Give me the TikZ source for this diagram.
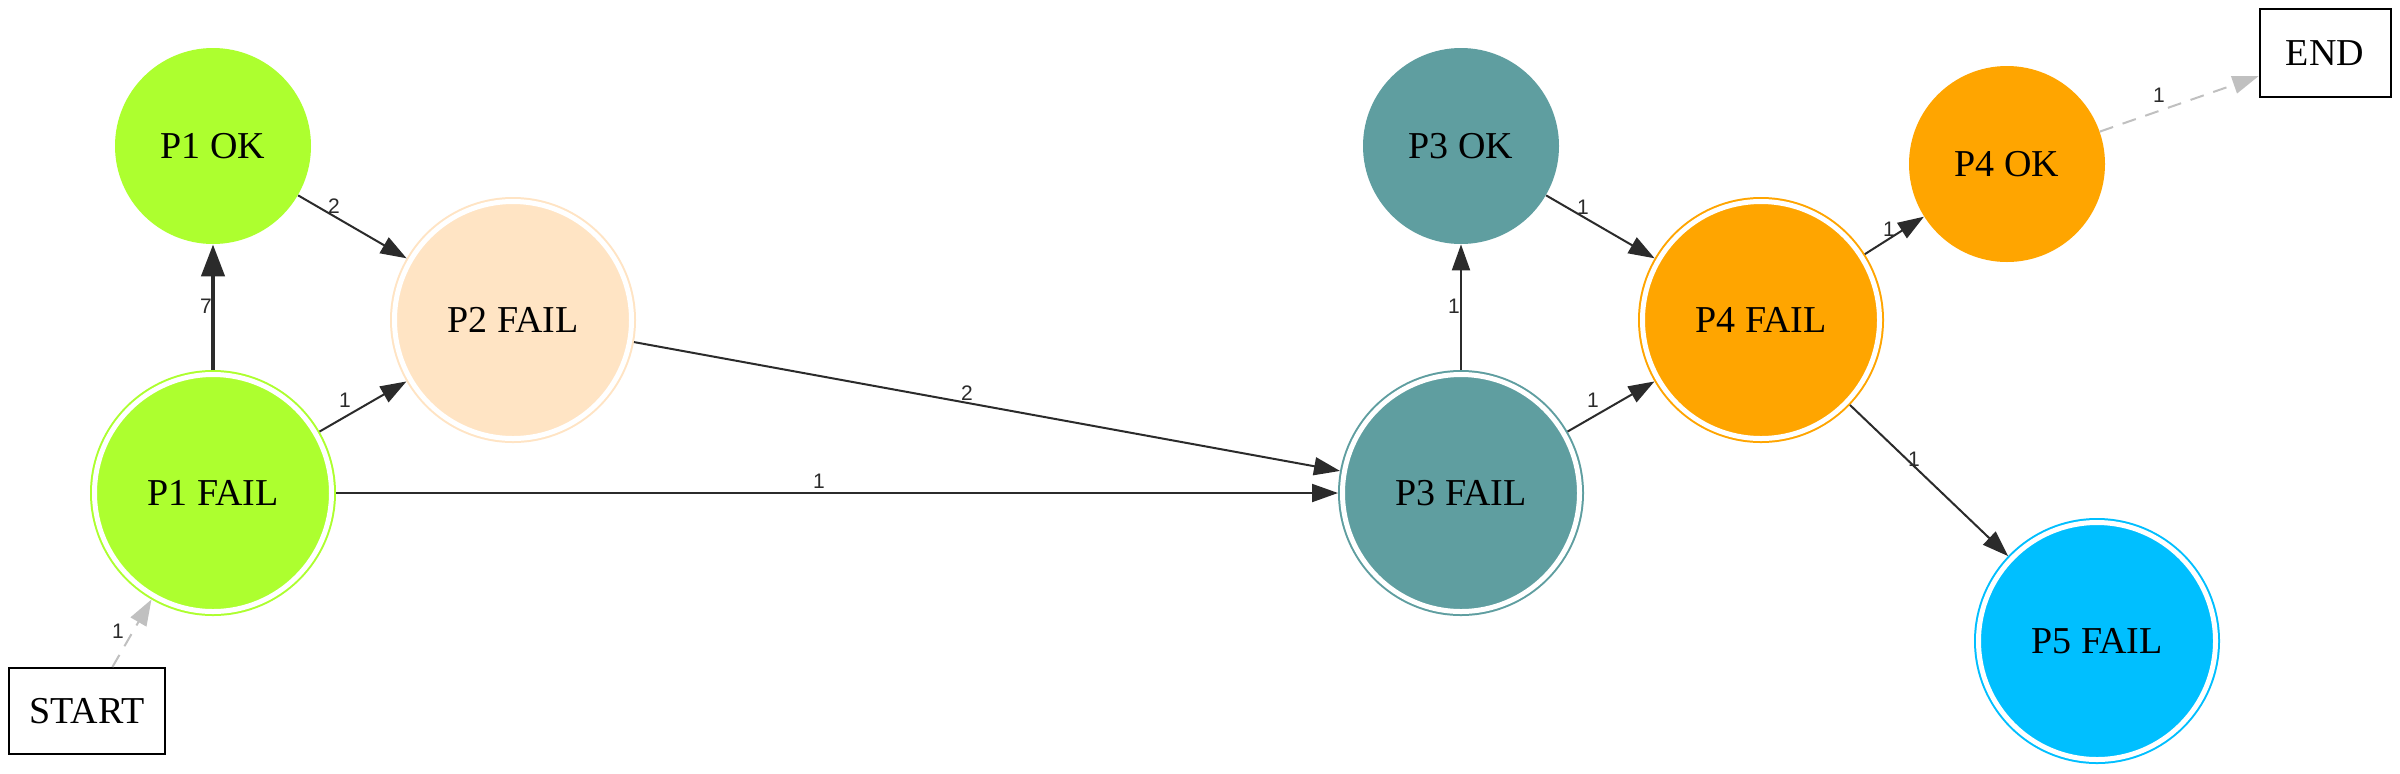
\documentclass[tikz,border=0pt]{standalone}
\usepackage{fontspec}
\setmainfont{Liberation Serif}
\newfontfamily\lblfont{Liberation Sans}
\usetikzlibrary{arrows.meta}
\definecolor{edgec}{RGB}{43,43,43}
\definecolor{dashc}{RGB}{192,192,192}
\definecolor{gy}{HTML}{ADFF2F}
\definecolor{cb}{HTML}{5F9EA0}
\definecolor{org}{HTML}{FFA500}
\definecolor{dsb}{HTML}{00BFFF}
\definecolor{bsq}{HTML}{FFE4C4}
\begin{document}
\begin{tikzpicture}[x=0.5pt,y=-0.5pt,
 nodefont/.style={font=\fontsize{19}{23}\selectfont},
 okstate/.style={circle, fill=#1, draw=none, minimum size=98pt, inner sep=0pt, nodefont},
 failstate/.style={circle, fill=#1, draw=#1, line width=1pt, double=white, double distance=2.5pt, minimum size=118.5pt, inner sep=0pt, outer sep=2.25pt, nodefont},
 termbox/.style={rectangle, draw=black, line width=1pt, inner sep=0pt, nodefont},
 edge/.style={draw=edgec, line width=1pt, -{Triangle[length=13pt,width=9pt]}},
 thickedge/.style={draw=edgec, line width=2.2pt, -{Triangle[length=16pt,width=11.5pt]}},
 dedge/.style={draw=dashc, line width=1pt, dash pattern=on 7pt off 5pt, -{Triangle[length=13pt,width=9pt]}},
 elabel/.style={font=\lblfont\fontsize{10.5}{12}\selectfont, text=edgec, inner sep=0pt}]
\fill[white] (0,0) rectangle (2400,773);
\useasboundingbox (0,0) rectangle (2400,773);

\node[okstate=gy] (p1ok) at (213,146) {P1 OK};
\node[failstate=gy] (p1f) at (213,493) {P1 FAIL};
\node[failstate=bsq] (p2f) at (513,320) {P2 FAIL};
\node[termbox, minimum width=78pt, minimum height=43pt] (start) at (87,711) {START};
\node[okstate=cb] (p3ok) at (1461,146) {P3 OK};
\node[failstate=cb] (p3f) at (1461,493) {P3 FAIL};
\node[failstate=org] (p4f) at (1761,320) {P4 FAIL};
\node[okstate=org] (p4ok) at (2007,164) {P4 OK};
\node[termbox, minimum width=65.5pt, minimum height=44pt] (end) at (2325,53) {END};
\node[failstate=dsb] (p5f) at (2097,641) {P5 FAIL};

\draw[dedge] (start) -- (p1f);
\draw[thickedge] (p1f) -- (p1ok);
\draw[edge] (p1ok) -- (p2f);
\draw[edge] (p1f) -- (p2f);
\draw[edge] (p1f) -- (p3f);
\draw[edge] (p2f) -- (p3f);
\draw[edge] (p3f) -- (p3ok);
\draw[edge] (p3ok) -- (p4f);
\draw[edge] (p3f) -- (p4f);
\draw[edge] (p4f) -- (p4ok);
\draw[edge] (p4f) -- (p5f);
\draw[dedge] (p4ok) -- (end);

\node[elabel] (l1) at (118,631) {1};
\node[elabel] (l2) at (206,306) {7};
\node[elabel] (l3) at (334,206) {2};
\node[elabel] (l4) at (345,400) {1};
\node[elabel] (l5) at (819,481) {1};
\node[elabel] (l6) at (967,393) {2};
\node[elabel] (l7) at (1454,306) {1};
\node[elabel] (l8) at (1583,207) {1};
\node[elabel] (l9) at (1593,400) {1};
\node[elabel] (l10) at (1889,229) {1};
\node[elabel] (l11) at (1914,459) {1};
\node[elabel] (l12) at (2159,95) {1};
\end{tikzpicture}
\end{document}
